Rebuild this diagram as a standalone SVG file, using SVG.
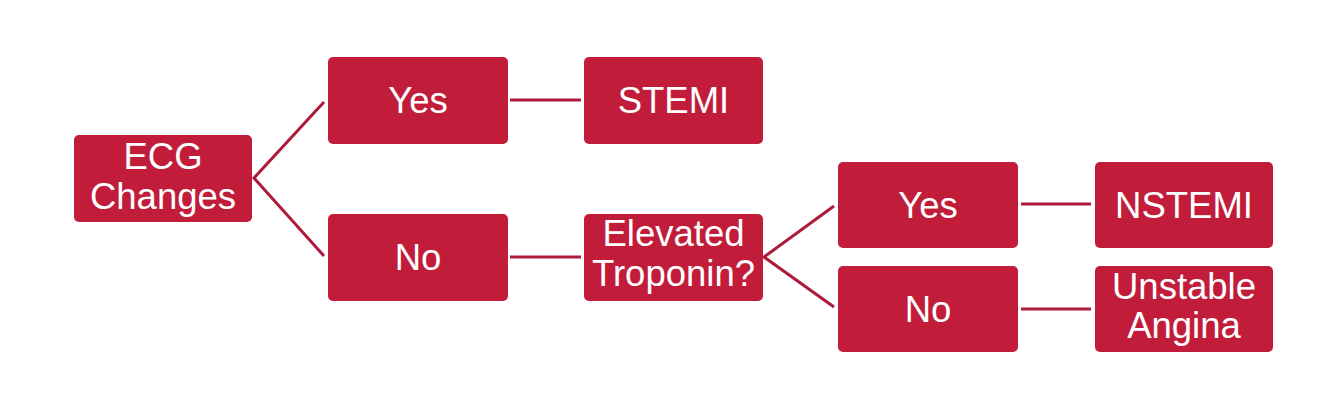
<svg xmlns="http://www.w3.org/2000/svg" width="1334" height="404" viewBox="0 0 1334 404">
<style>
.box{fill:#C21C3B;}
.lbl{fill:#FFFFFF;font-family:"Liberation Sans",Arial,sans-serif;font-size:36.5px;text-anchor:middle;}
.conn{stroke:#AD1A3A;stroke-width:3;fill:none;}
</style>
<rect width="1334" height="404" fill="#FFFFFF"/>
<g id="connectors">
<polyline class="conn" points="324,102 254,178 324,256"/>
<line class="conn" x1="510" y1="100" x2="581" y2="100"/>
<line class="conn" x1="510" y1="257" x2="581" y2="257"/>
<polyline class="conn" points="834,206 764,257 834,307"/>
<line class="conn" x1="1021" y1="204" x2="1091" y2="204"/>
<line class="conn" x1="1021" y1="309" x2="1091" y2="309"/>
</g>
<g id="ecg">
<rect class="box" x="74" y="135" width="178" height="87" rx="5"/>
<text class="lbl" x="163" y="169">ECG</text>
<text class="lbl" x="163" y="209">Changes</text>
</g>
<g id="yes1">
<rect class="box" x="328" y="57" width="180" height="87" rx="5"/>
<text class="lbl" x="418" y="113">Yes</text>
</g>
<g id="stemi">
<rect class="box" x="584" y="57" width="179" height="87" rx="5"/>
<text class="lbl" x="673.5" y="113">STEMI</text>
</g>
<g id="no1">
<rect class="box" x="328" y="214" width="180" height="87" rx="5"/>
<text class="lbl" x="418" y="270">No</text>
</g>
<g id="troponin">
<rect class="box" x="584" y="214" width="179" height="87" rx="5"/>
<text class="lbl" x="673.5" y="246">Elevated</text>
<text class="lbl" x="673.5" y="286">Troponin?</text>
</g>
<g id="yes2">
<rect class="box" x="838" y="162" width="180" height="86" rx="5"/>
<text class="lbl" x="928" y="218">Yes</text>
</g>
<g id="nstemi">
<rect class="box" x="1095" y="162" width="178" height="86" rx="5"/>
<text class="lbl" x="1184" y="218">NSTEMI</text>
</g>
<g id="no2">
<rect class="box" x="838" y="266" width="180" height="86" rx="5"/>
<text class="lbl" x="928" y="322">No</text>
</g>
<g id="unstable">
<rect class="box" x="1095" y="266" width="178" height="86" rx="5"/>
<text class="lbl" x="1184" y="299">Unstable</text>
<text class="lbl" x="1184" y="338">Angina</text>
</g>
</svg>
